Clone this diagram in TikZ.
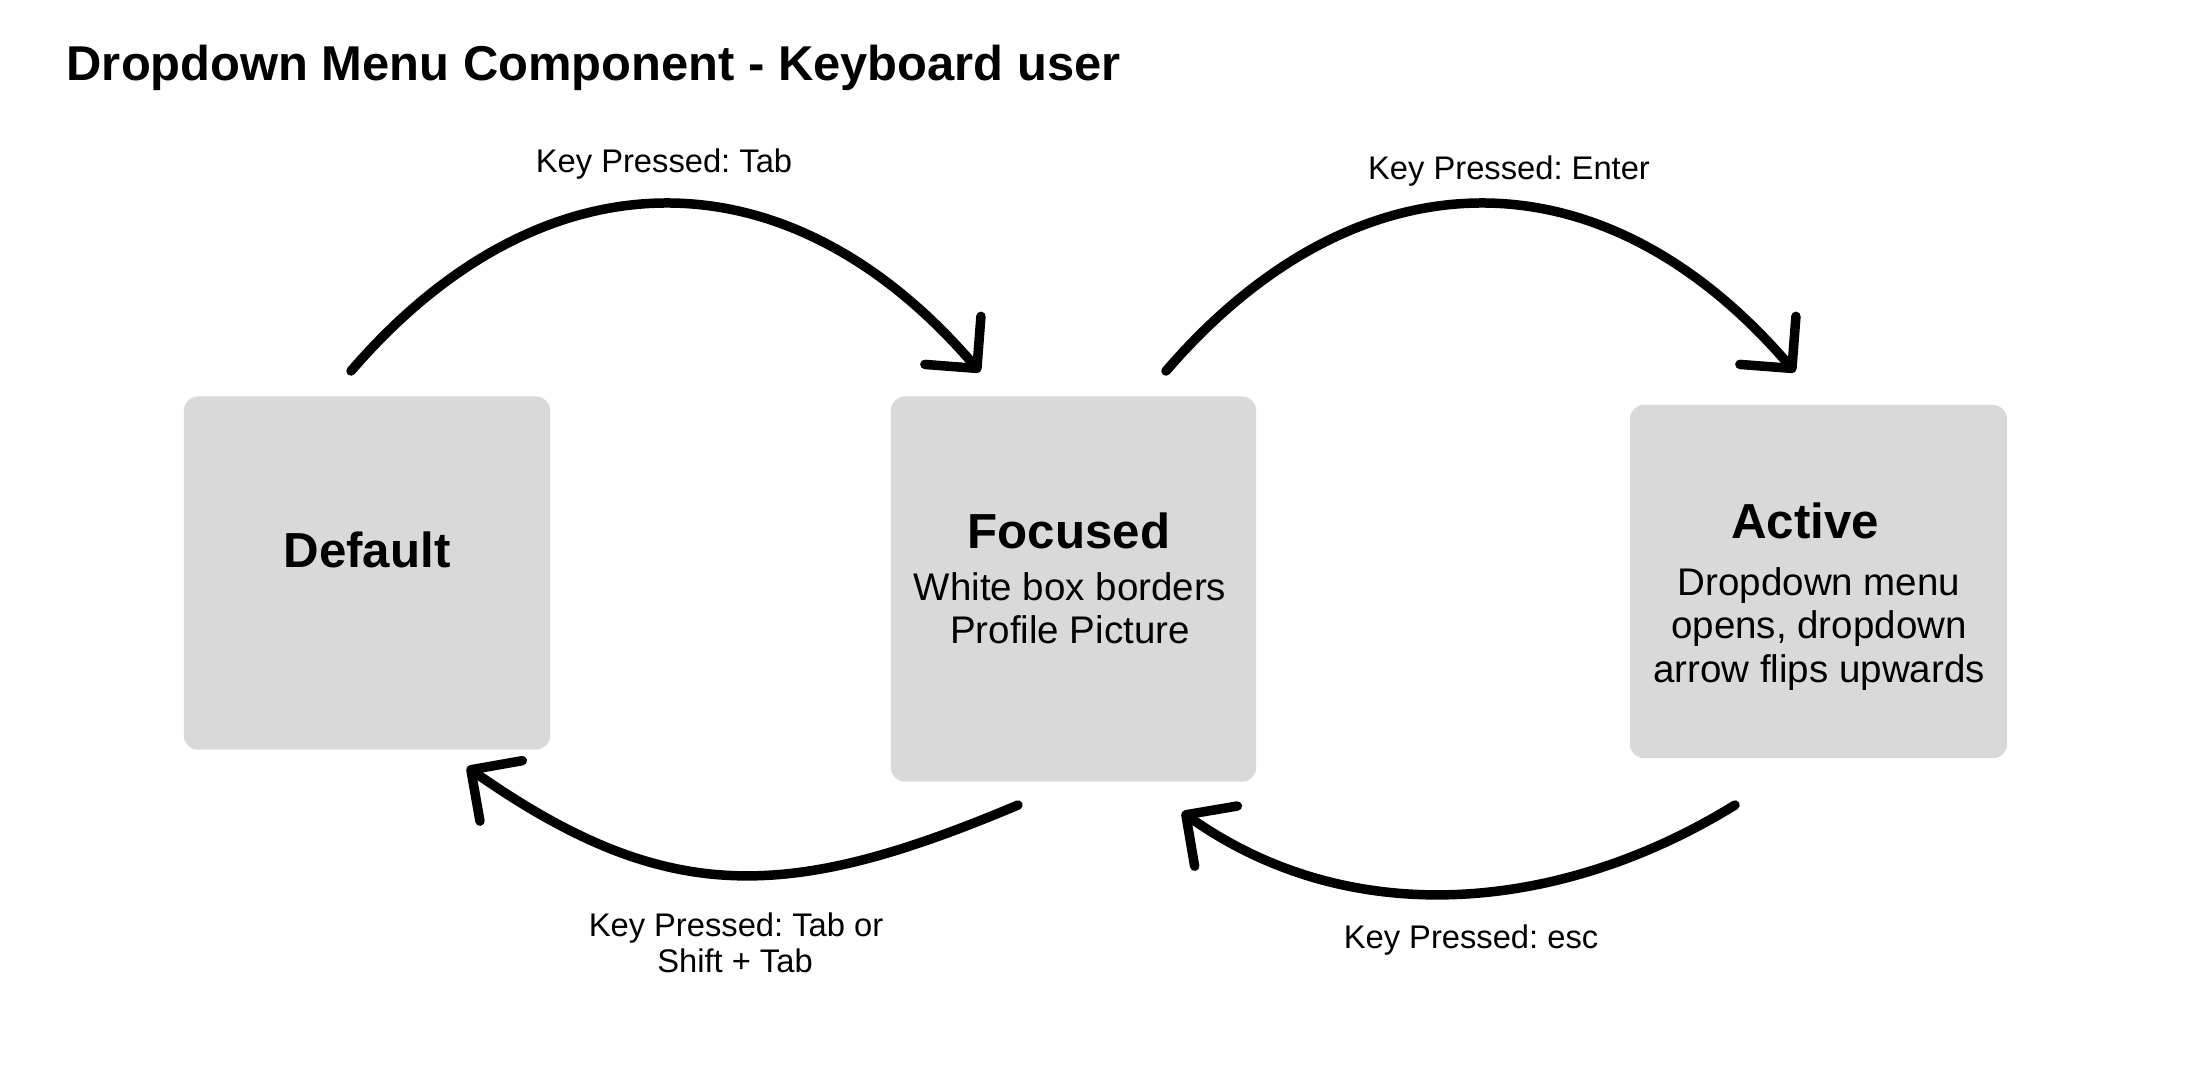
\documentclass[tikz,border=0pt]{standalone}
\usepackage{fontspec}
\setmainfont{Liberation Sans}
\usetikzlibrary{arrows.meta}
\definecolor{boxgray}{HTML}{D9D9D9}
\frenchspacing
\begin{document}
\begin{tikzpicture}[x=0.01cm, y=-0.01cm,
  state/.style={fill=boxgray, draw=none, rounded corners=4pt, inner sep=0pt},
  heading/.style={font=\fontsize{14pt}{16pt}\selectfont\bfseries, anchor=base, inner sep=0pt},
  body/.style={font=\fontsize{10.95pt}{13pt}\selectfont, anchor=base, inner sep=0pt},
  keylabel/.style={font=\fontsize{9.3pt}{11pt}\selectfont, anchor=base, inner sep=0pt},
  flow/.style={line width=2.7pt, line cap=round,
    -{Straight Barb[length=10.5pt, width=21pt, round]}},
]
% canvas
\path[use as bounding box, fill=white] (0,0) rectangle (2204,1090);

% title
\node[anchor=base west, inner sep=0pt, font=\fontsize{13.9pt}{16pt}\selectfont\bfseries]
  (title) at (66,80) {Dropdown Menu Component - Keyboard user};

% state boxes
\node[state, minimum width=3.66cm, minimum height=3.53cm] (default) at (367,573) {};
\node[state, minimum width=3.65cm, minimum height=3.85cm] (focused) at (1073.5,589) {};
\node[state, minimum width=3.77cm, minimum height=3.53cm] (active) at (1818.5,581.5) {};

% box texts
\node[heading] (defaultT) at (367,567) {Default};
\node[heading] (focusedT) at (1069,548) {Focused};
\node[body] (focusedA) at (1070,600) {White box borders};
\node[body] (focusedB) at (1070,643) {Profile Picture};
\node[heading] (activeT) at (1805,538) {Active};
\node[body] (activeA) at (1819,595) {Dropdown menu};
\node[body] (activeB) at (1819,638.5) {opens, dropdown};
\node[body] (activeC) at (1819,682) {arrow flips upwards};

% transition end points
\coordinate (tabS) at (351,371);
\coordinate (tabE) at (980,372);
\coordinate (enterS) at (1166,371);
\coordinate (enterE) at (1795,372);
\coordinate (backS) at (1018,805);
\coordinate (backE) at (467,767);
\coordinate (escS) at (1735,805);
\coordinate (escE) at (1182,812);

% transitions
\draw[flow] (tabS) .. controls +(192,-223) and +(-192,-224) .. (tabE);
\draw[flow] (enterS) .. controls +(192,-223) and +(-192,-224) .. (enterE);
\draw[flow] (backS) .. controls +(-230,97) and +(200,140) .. (backE);
\draw[flow] (escS) .. controls +(-170,105) and +(172,122) .. (escE);

% transition labels
\node[keylabel] (tabL) at (664,172) {Key Pressed: Tab};
\node[keylabel] (enterL) at (1509,179) {Key Pressed: Enter};
\node[keylabel] (backL1) at (736,936) {Key Pressed: Tab or};
\node[keylabel] (backL2) at (735,972) {Shift + Tab};
\node[keylabel] (escL) at (1471,948) {Key Pressed: esc};
\end{tikzpicture}
\end{document}
